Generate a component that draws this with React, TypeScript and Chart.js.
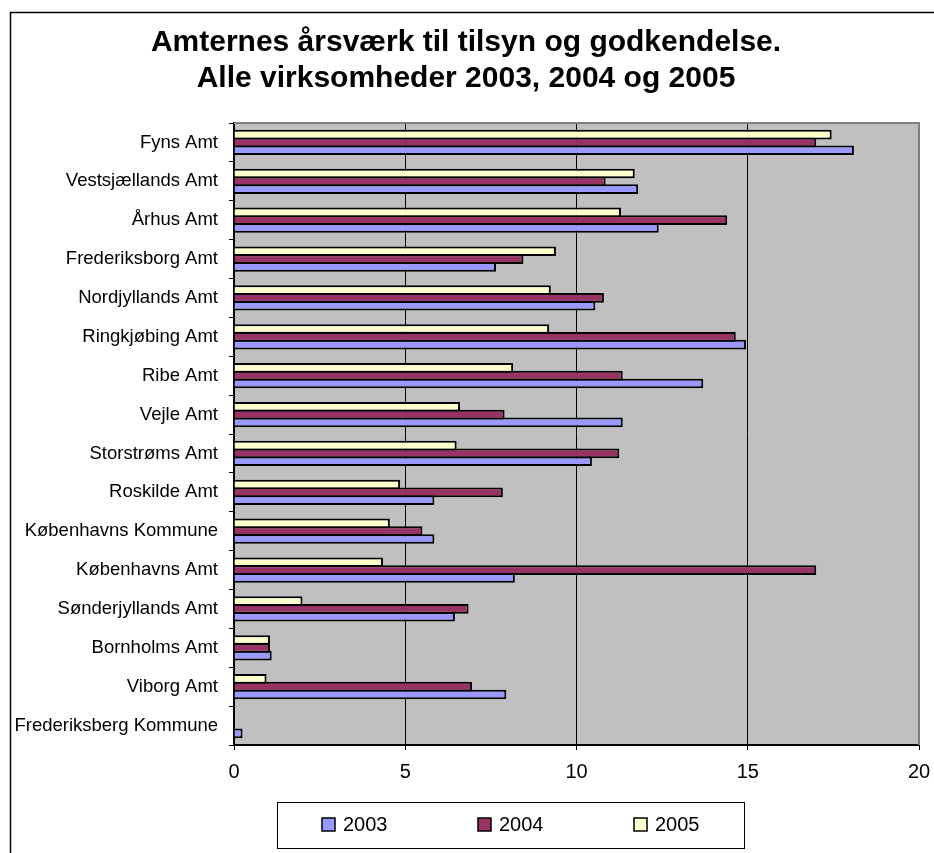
import React, { useEffect, useRef } from "react";
import { Chart, registerables } from "chart.js";

Chart.register(...registerables);

const titleLines = ["Amternes årsværk til tilsyn og godkendelse.", "Alle virksomheder 2003, 2004 og 2005"];

const categories = [
  "Fyns Amt",
  "Vestsjællands Amt",
  "Århus Amt",
  "Frederiksborg Amt",
  "Nordjyllands Amt",
  "Ringkjøbing Amt",
  "Ribe Amt",
  "Vejle Amt",
  "Storstrøms Amt",
  "Roskilde Amt",
  "Københavns Kommune",
  "Københavns Amt",
  "Sønderjyllands Amt",
  "Bornholms Amt",
  "Viborg Amt",
  "Frederiksberg Kommune",
];

const seriesLabels = ["2003", "2004", "2005"];
const values2003 = [18.1, 11.8, 12.4, 7.65, 10.55, 14.95, 13.7, 11.35, 10.45, 5.85, 5.85, 8.2, 6.45, 1.1, 7.95, 0.25];
const values2004 = [17.0, 10.85, 14.4, 8.45, 10.8, 14.65, 11.35, 7.9, 11.25, 7.85, 5.5, 17.0, 6.85, 1.05, 6.95, 0];
const values2005 = [17.45, 11.7, 11.3, 9.4, 9.25, 9.2, 8.15, 6.6, 6.5, 4.85, 4.55, 4.35, 2.0, 1.05, 0.95, 0];
const seriesColors = ["#9999FF", "#993366", "#FFFFCC"];

const xMin = 0;
const xMax = 20;
const xStep = 5;

const FONT = "'Liberation Sans', Arial, sans-serif";

const decorPlugin = {
  id: "decor",
  beforeDraw(chart: any) {
    const { ctx, chartArea: a } = chart;
    ctx.save();
    ctx.fillStyle = "#ffffff";
    ctx.fillRect(0, 0, chart.width, chart.height);
    ctx.fillStyle = "#C0C0C0";
    ctx.fillRect(a.left, a.top, a.right - a.left, a.bottom - a.top);
    // outer frame
    ctx.strokeStyle = "#000";
    ctx.lineWidth = 1.5;
    ctx.beginPath();
    ctx.moveTo(10.5, chart.height + 2);
    ctx.lineTo(10.5, 12.5);
    ctx.lineTo(chart.width + 2, 12.5);
    ctx.stroke();
    ctx.restore();
  },
  afterDraw(chart: any) {
    const { ctx, chartArea: a } = chart;
    ctx.save();
    // plot frame (top / right)
    ctx.strokeStyle = "#808080";
    ctx.lineWidth = 2;
    ctx.beginPath();
    ctx.moveTo(a.left, a.top);
    ctx.lineTo(a.right, a.top);
    ctx.lineTo(a.right, a.bottom);
    ctx.stroke();

    // title
    ctx.fillStyle = "#000";
    ctx.font = `bold 30px ${FONT}`;
    ctx.textAlign = "center";
    ctx.textBaseline = "middle";
    ctx.fillText(titleLines[0], 466, 43);
    ctx.fillText(titleLines[1], 466, 79);

    // legend
    const lx = 277, ly = 802, lw = 467, lh = 46;
    ctx.fillStyle = "#fff";
    ctx.fillRect(lx, ly, lw, lh);
    ctx.strokeStyle = "#000";
    ctx.lineWidth = 1;
    ctx.strokeRect(lx + 0.5, ly + 0.5, lw, lh);
    ctx.font = `20px ${FONT}`;
    ctx.textAlign = "left";
    ctx.textBaseline = "middle";
    seriesLabels.forEach((lab, i) => {
      const sx = 322 + i * 156;
      const sy = 818;
      ctx.fillStyle = seriesColors[i];
      ctx.fillRect(sx, sy, 13, 13);
      ctx.strokeStyle = "#000";
      ctx.lineWidth = 1.5;
      ctx.strokeRect(sx, sy, 13, 13);
      ctx.fillStyle = "#000";
      ctx.fillText(lab, sx + 21, sy + 7);
    });
    ctx.restore();
  },
};

export default function App() {
  const canvasRef = useRef<HTMLCanvasElement | null>(null);

  useEffect(() => {
    const canvas = canvasRef.current;
    if (!canvas) return;
    const allValues = [values2003, values2004, values2005];
    // top bar in each group is 2005, bottom is 2003
    const order = [2, 1, 0];
    const chart = new Chart(canvas, {
      type: "bar",
      data: {
        labels: categories,
        datasets: order.map((i) => ({
          label: seriesLabels[i],
          data: allValues[i],
          backgroundColor: seriesColors[i],
          borderColor: "#000",
          borderWidth: 2,
          categoryPercentage: 0.6,
          barPercentage: 1.24,
        })),
      },
      options: {
        indexAxis: "y",
        animation: false,
        responsive: false,
        devicePixelRatio: 1,
        layout: { padding: { top: 123, right: 15, left: 0, bottom: 0 } },
        plugins: {
          legend: { display: false },
          title: { display: false },
          tooltip: { enabled: false },
        },
        scales: {
          x: {
            type: "linear",
            min: xMin,
            max: xMax,
            ticks: {
              stepSize: xStep,
              color: "#000",
              font: { family: FONT, size: 20 },
              padding: 10,
            },
            grid: {
              color: (c: any) => (c.tick && c.tick.value === xMax ? "#808080" : "#000"),
              lineWidth: 1,
              drawTicks: true,
              tickLength: 5,
              tickColor: "#000",
            },
            border: { display: true, color: "#000", width: 2 },
            afterFit(scale: any) {
              scale.height = 108;
              scale.paddingRight = 0;
              scale.paddingLeft = 0;
            },
          },
          y: {
            type: "category",
            offset: true,
            ticks: {
              color: "#000",
              font: { family: FONT, size: 18.5 },
              padding: 11,
            },
            grid: {
              offset: true,
              drawOnChartArea: false,
              drawTicks: true,
              tickLength: 5,
              tickColor: "#000",
              color: "#000",
            },
            border: { display: true, color: "#000", width: 1.5 },
            afterFit(scale: any) {
              scale.width = 234;
            },
          },
        },
      },
      plugins: [decorPlugin],
    } as any);
    return () => chart.destroy();
  }, []);

  return (
    <div style={{ position: "absolute", left: 0, top: 0, width: 934, height: 853, background: "#fff" }}>
      <canvas ref={canvasRef} width={934} height={853} style={{ width: 934, height: 853, display: "block" }} />
    </div>
  );
}
